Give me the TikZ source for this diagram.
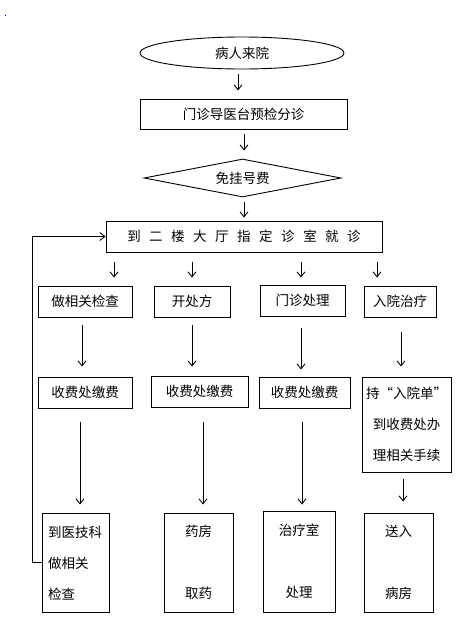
\documentclass[tikz,border=0pt]{standalone}
\usepackage{fontspec}
\setmainfont{Noto Sans CJK SC}
\usetikzlibrary{shapes.geometric,arrows.meta}
\begin{document}
\begin{tikzpicture}[x=1pt,y=-1pt,
  every node/.style={font=\fontsize{13.5}{16}\selectfont, inner sep=0pt},
  box/.style={draw, line width=0.9pt, rectangle, align=center},
  arr/.style={draw, line width=0.9pt, -{Straight Barb[length=5pt,width=8pt,line width=0.9pt]}}]
\useasboundingbox (0,0) rectangle (471,619);
\fill[blue!70!black] (5,15) rectangle (6,16);
% main column
\node[draw, line width=0.9pt, ellipse, minimum width=204pt, minimum height=32pt] (start) at (242,53) {病人来院};
\node[box, minimum width=207pt, minimum height=30pt] (guide) at (243.5,114) {门诊导医台预检分诊};
\node[draw, line width=0.9pt, diamond, aspect=5.2, minimum width=197pt, minimum height=38pt] (free) at (242.5,178) {免挂号费};
\node[box, minimum width=276pt, minimum height=31pt] (hall) at (244,236.5) {到\hspace{8.5pt}二\hspace{8.5pt}楼\hspace{8.5pt}大\hspace{8.5pt}厅\hspace{8.5pt}指\hspace{8.5pt}定\hspace{8.5pt}诊\hspace{8.5pt}室\hspace{8.5pt}就\hspace{8.5pt}诊};
% row 1
\node[box, minimum width=94pt, minimum height=31pt] (a1) at (85,301.5) {做相关检查};
\node[box, minimum width=76pt, minimum height=31pt] (b1) at (192,301.5) {开处方};
\node[box, minimum width=85pt, minimum height=31pt] (c1) at (302.5,300.5) {门诊处理};
\node[box, minimum width=72pt, minimum height=31pt] (d1) at (400,301.5) {入院治疗};
% row 2
\node[box, minimum width=94pt, minimum height=31pt] (a2) at (85,392.5) {收费处缴费};
\node[box, minimum width=97pt, minimum height=31pt] (b2) at (199.5,391.5) {收费处缴费};
\node[box, minimum width=91pt, minimum height=31pt] (c2) at (304.5,392.5) {收费处缴费};
\node[box, minimum width=89pt, minimum height=95pt, align=center, font=\fontsize{13.5}{31}\selectfont] (d2) at (406.5,424.5) {持“入院单”\\到收费处办\\理相关手续};
% row 3
\node[box, minimum width=67pt, minimum height=99pt, align=left, font=\fontsize{13.5}{31}\selectfont] (a3) at (75.5,562.5) {};
\node[anchor=west, align=left, font=\fontsize{13.5}{31}\selectfont] (a3t) at (48,563) {到医技科\\做相关\\检查};
\node[box, minimum width=69pt, minimum height=99pt, font=\fontsize{13.5}{62}\selectfont] (b3) at (198.5,562.5) {药房\\取药};
\node[box, minimum width=72pt, minimum height=101pt, font=\fontsize{13.5}{62}\selectfont] (c3) at (299,561.5) {治疗室\\处理};
\node[box, minimum width=69pt, minimum height=99pt, font=\fontsize{13.5}{62}\selectfont] (d3) at (398.5,562.5) {送入\\病房};
% x positions of arrows
\coordinate (x0) at (238,0);
\coordinate (x1) at (244,0);
\coordinate (xa) at (114,0);
\coordinate (xb) at (192,0);
\coordinate (xc) at (301,0);
\coordinate (xd) at (377,0);
\coordinate (xa2) at (82,0);
\coordinate (xb2) at (192,0);
\coordinate (xc2) at (301,0);
\coordinate (xd2) at (401,0);
\coordinate (xa3) at (80,0);
\coordinate (xb3) at (203,0);
\coordinate (xc3) at (302,0);
\coordinate (xd3) at (403,0);
% main arrows
\draw[arr, shorten <=5pt, shorten >=8pt] (start.south -| x0) -- (guide.north -| x0);
\draw[arr, shorten <=5pt, shorten >=8pt] (guide.south -| x1) -- (free.north -| x1);
\draw[arr, shorten <=5pt, shorten >=3pt] (free.south -| x1) -- (hall.north -| x1);
% to row 1
\draw[arr, shorten <=10pt, shorten >=8pt] (hall.south -| xa) -- (a1.north -| xa);
\draw[arr, shorten <=10pt, shorten >=8pt] (hall.south -| xb) -- (b1.north -| xb);
\draw[arr, shorten <=10pt, shorten >=7pt] (hall.south -| xc) -- (c1.north -| xc);
\draw[arr, shorten <=10pt, shorten >=8pt] (hall.south -| xd) -- (d1.north -| xd);
% to row 2
\draw[arr, shorten <=8pt, shorten >=10pt] (a1.south -| xa2) -- (a2.north -| xa2);
\draw[arr, shorten <=8pt, shorten >=9pt] (b1.south -| xb2) -- (b2.north -| xb2);
\draw[arr, shorten <=12pt, shorten >=7pt] (c1.south -| xc2) -- (c2.north -| xc2);
\draw[arr, shorten <=15pt, shorten >=10pt] (d1.south -| xd2) -- (d2.north -| xd2);
% to row 3
\draw[arr, shorten <=14pt, shorten >=8pt] (a2.south -| xa3) -- (a3.north -| xa3);
\draw[arr, shorten <=15pt, shorten >=8pt] (b2.south -| xb3) -- (b3.north -| xb3);
\draw[arr, shorten <=14pt, shorten >=6pt] (c2.south -| xc3) -- (c3.north -| xc3);
\draw[arr, shorten <=7pt, shorten >=11pt] (d2.south -| xd3) -- (d3.north -| xd3);
% feedback
\draw[arr] (a3.west) -- ++(-9,0) |- (hall.west);
\end{tikzpicture}
\end{document}
